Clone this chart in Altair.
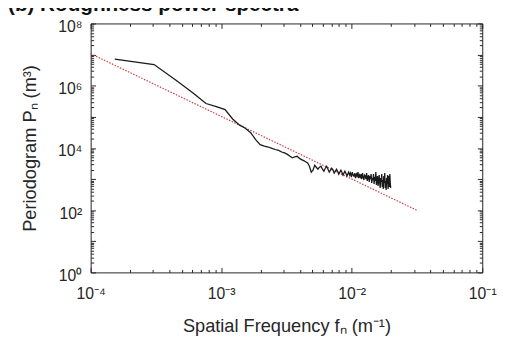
import altair as alt
import numpy as np
import pandas as pd

# ---------------- data ----------------
# spatial frequencies, in units of 1e-4 m^-1
freq_1e4 = [
    1.53, 3.06, 4.59, 6.12, 7.65, 9.18, 10.71, 12.24, 13.77, 15.30,
    16.83, 18.36, 19.89, 21.42, 22.95, 24.48, 26.01, 27.54, 29.07, 30.60,
    32.13, 33.66, 35.19, 36.72, 38.25, 39.78, 41.31, 42.84, 44.37, 45.90,
    47.43, 48.96, 50.49, 52.02, 53.55, 55.08, 56.61, 58.14, 59.67, 61.20,
    62.73, 64.26, 65.79, 67.32, 68.85, 70.38, 71.91, 73.44, 74.97, 76.50,
    78.03, 79.56, 81.09, 82.62, 84.15, 85.68, 87.21, 88.74, 90.27, 91.80,
    93.33, 94.86, 96.39, 97.92, 99.45, 100.98, 102.51, 104.04, 105.57, 107.10,
    108.63, 110.16, 111.69, 113.22, 114.75, 116.28, 117.81, 119.34, 120.87, 122.40,
    123.93, 125.46, 126.99, 128.52, 130.05, 131.58, 133.11, 134.64, 136.17, 137.70,
    139.23, 140.76, 142.29, 143.82, 145.35, 146.88, 148.41, 149.94, 151.47, 153.00,
    154.53, 156.06, 157.59, 159.12, 160.65, 162.18, 163.71, 165.24, 166.77, 168.30,
    169.83, 171.36, 172.89, 174.42, 175.95, 177.48, 179.01, 180.54, 182.07, 183.60,
    185.13, 186.66, 188.19, 189.72, 191.25, 192.78, 194.31, 195.84, 197.37, 198.90,
]
# periodogram values, m^3
periodogram = [
    7.1e6, 4.8e6, 1.42e6, 5.75e5, 2.67e5, 2.12e5, 1.70e5, 8.5e4, 5.5e4, 4.27e4,
    3.1e4, 1.85e4, 1.28e4, 1.15e4, 1.07e4, 9.7e3, 8.9e3, 8.3e3, 7.4e3, 6.9e3,
    6.2e3, 5.4e3, 4.8e3, 5.2e3, 5.4e3, 4.6e3, 4.2e3, 3.9e3, 3.6e3, 3.3e3,
    2578, 1666, 1927, 2773, 2398, 2072, 2398, 2578, 2072, 1791,
    2230, 2578, 2072, 1666, 1927, 2230, 1927, 1549, 1791, 2072,
    1791, 1440, 1666, 1927, 1666, 1339, 1549, 1791, 1549, 1245,
    1440, 1666, 1339, 1549, 1157, 1666, 1339, 1245, 1549, 1076,
    1440, 1245, 1666, 1076, 1339, 1157, 1440, 1000, 1549, 1157,
    930, 1339, 1245, 1000, 1549, 865, 1157, 1339, 804, 1245,
    1000, 1440, 747, 1076, 930, 1440, 695, 1157, 865, 1666,
    646, 1000, 1245, 600, 865, 1339, 747, 519, 1076, 804,
    1440, 558, 930, 483, 1245, 747, 1549, 519, 865, 449,
    1076, 695, 1339, 483, 804, 1245, 558, 1440, 747, 519,
]
# power-law fit line (red dotted)
fit_freq = [1.0e-4, 0.0314]
fit_power = [1.07e7, 100.0]

x_label_values = [1e-4, 1e-3, 1e-2, 1e-1]
x_label_texts = ["10⁻⁴", "10⁻³", "10⁻²", "10⁻¹"]
y_label_values = [1e0, 1e2, 1e4, 1e6, 1e8]
y_label_texts = ["10⁰", "10²", "10⁴", "10⁶", "10⁸"]

title_text = "(b) Roughness power spectra"
x_title = "Spatial Frequency   fₙ (m⁻¹)"
y_title = "Periodogram  Pₙ (m³)"

# ---------------- styling ----------------
W, H = 398, 253
FONT = "Liberation Sans"
INK = "#262626"

df = pd.DataFrame({"f": np.array(freq_1e4) * 1e-4, "P": periodogram})
fit = pd.DataFrame({"f": fit_freq, "P": fit_power})

x_scale = alt.Scale(type="log", domain=[1e-4, 1e-1], nice=False)
y_scale = alt.Scale(type="log", domain=[1e0, 1e8], nice=False)

x_ticks = [m * 10.0 ** e for e in range(-4, -1) for m in range(1, 10)] + [1e-1]
y_ticks = [m * 10.0 ** e for e in range(0, 8) for m in range(1, 10)] + [1e8]

MAJOR = "abs(log(datum.value)/LN10 - round(log(datum.value)/LN10)) < 0.001"


def label_expr(vals, texts):
    parts = [f"datum.value == {v!r} ? '{t}'" for v, t in zip(vals, texts)]
    return " : ".join(parts) + " : ''"


def tick_axis(orient, offset, values):
    return alt.Axis(
        orient=orient, offset=offset, values=values, labels=False,
        domain=False, grid=False, title=None, ticks=True,
        tickColor=INK, tickWidth=1,
        tickSize={"condition": {"test": MAJOR, "value": 5}, "value": 3},
    )


x_lab_axis = alt.Axis(
    orient="bottom", values=x_label_values,
    labelExpr=label_expr(x_label_values, x_label_texts),
    ticks=False, domain=False, grid=False,
    labelFont=FONT, labelFontSize=16, labelColor=INK,
    labelPadding=22, labelBaseline="middle", labelFlush=False,
    title=x_title, titleFont=FONT, titleFontSize=18.5, titleFontWeight="normal",
    titleColor=INK, titleY=54, titleBaseline="middle",
)
y_lab_axis = alt.Axis(
    orient="left", values=y_label_values,
    labelExpr=label_expr(y_label_values, y_label_texts),
    ticks=False, domain=False, grid=False,
    labelFont=FONT, labelFontSize=16, labelColor=INK,
    labelPadding=9, labelOffset=3, labelFlush=False,
    title=y_title, titleFont=FONT, titleFontSize=18.5, titleFontWeight="normal",
    titleColor=INK, titleX=-62, titleBaseline="middle",
)

fit_layer = alt.Chart(fit).mark_line(
    color="#d23a3a", strokeWidth=1.2, strokeDash=[1.5, 1.5]
).encode(
    x=alt.X("f:Q", scale=x_scale, axis=x_lab_axis),
    y=alt.Y("P:Q", scale=y_scale, axis=y_lab_axis),
)

data_layer = alt.Chart(df).mark_line(color="#1a1a1a", strokeWidth=1.3).encode(
    x=alt.X("f:Q", scale=x_scale, axis=tick_axis("top", -H, x_ticks)),
    y=alt.Y("P:Q", scale=y_scale, axis=tick_axis("right", -W, y_ticks)),
)

frame_layer = alt.Chart(fit).mark_line(opacity=0).encode(
    x=alt.X("f:Q", scale=x_scale, axis=tick_axis("bottom", -H, x_ticks)),
    y=alt.Y("P:Q", scale=y_scale, axis=tick_axis("left", -W, y_ticks)),
)

chart = (
    alt.layer(fit_layer, data_layer, frame_layer)
    .resolve_axis(x="independent", y="independent")
    .properties(
        width=W, height=H,
        autosize=alt.AutoSizeParams(type="none"),
        padding={"left": 84, "top": 13, "right": 16, "bottom": 66},
        title=alt.TitleParams(
            title_text, anchor="start", frame="group", dx=-84,
            font=FONT, fontSize=21, fontWeight="bold", color="#111111",
        ),
        background="white",
    )
    .configure_view(stroke=INK, strokeWidth=1)
)

chart.save("out.html", embed_options={"renderer": "svg", "actions": False})
